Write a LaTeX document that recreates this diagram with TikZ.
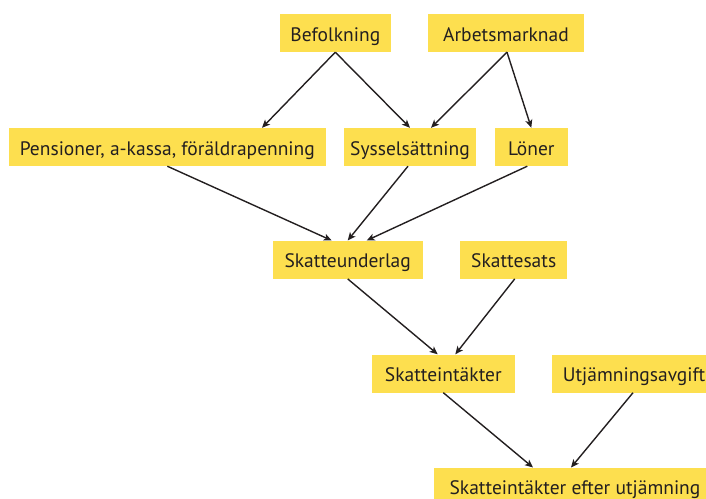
\documentclass[tikz,border=0pt]{standalone}
\usepackage{fontspec}
\setmainfont{PT Sans}
\usetikzlibrary{arrows.meta}
\definecolor{boxyellow}{HTML}{FDDF4F}
\definecolor{inkdark}{HTML}{231F20}
\tikzset{
  box/.style={fill=boxyellow, inner sep=0pt, minimum height=38pt, text height=16.5pt, text depth=0pt, text=inkdark, font=\fontsize{19.5}{22}\selectfont, anchor=center},
  link/.style={draw=inkdark, line width=1.4pt, -{Stealth[length=8pt,width=7pt,inset=2pt]}}
}
\begin{document}
\begin{tikzpicture}[x=1pt,y=-1pt]
\useasboundingbox (0,0) rectangle (706,498);
\clip (0,0) rectangle (706,498);
\node[box, minimum width=110.7pt] (bef) at (335.3,33) {Befolkning};
\node[box, minimum width=156.3pt] (arb) at (506,33) {Arbetsmarknad};
\node[box, minimum width=316.7pt] (pen) at (167.3,147) {Pensioner, a-kassa, föräldrapenning};
\node[box, minimum width=131.7pt] (sys) at (410,147) {Sysselsättning};
\node[box, minimum width=72.7pt] (lon) at (531.3,147) {Löner};
\node[box, minimum width=150pt] (sku) at (347.7,259.7) {Skatteunderlag};
\node[box, minimum width=107.3pt] (sks) at (513.7,259.7) {Skattesats};
\node[box, minimum width=143.3pt] (ski) at (443.3,373.5) {Skatteintäkter};
\node[box, minimum width=164pt] (utj) at (634,373.5) {Utjämningsavgift};
\node[box, minimum width=282pt] (bot) at (575,486.7) {Skatteintäkter efter utjämning};
\draw[link] (bef.south) -- ([xshift=94.7pt]pen.north);
\draw[link] (bef.south) -- (sys.north);
\draw[link] ([xshift=1pt]arb.south) -- ([xshift=21pt]sys.north);
\draw[link] ([xshift=1pt]arb.south) -- (lon.north);
\draw[link] (pen.south) -- ([xshift=-16pt]sku.north);
\draw[link] ([xshift=-2pt]sys.south) -- (sku.north);
\draw[link] ([xshift=-4pt]lon.south) -- ([xshift=19pt]sku.north);
\draw[link] (sku.south) -- ([xshift=-5.6pt]ski.north);
\draw[link] ([xshift=1pt]sks.south) -- ([xshift=12pt]ski.north);
\draw[link] (ski.south) -- ([xshift=-42pt]bot.north);
\draw[link] ([xshift=-1pt]utj.south) -- ([xshift=-4pt]bot.north);
\end{tikzpicture}
\end{document}
